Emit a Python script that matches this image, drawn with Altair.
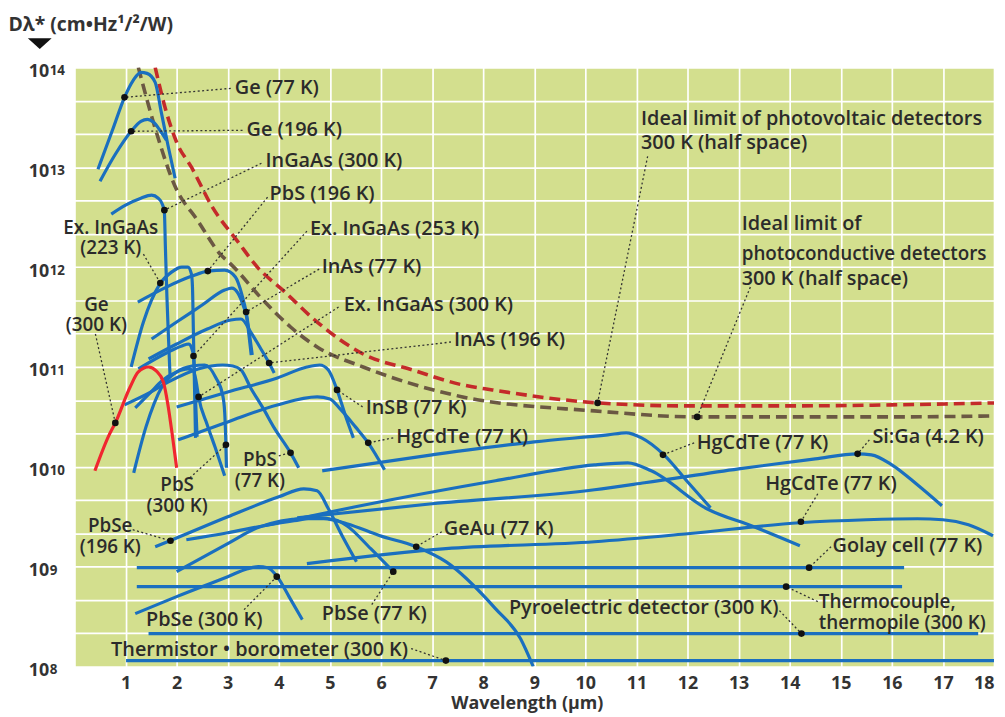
import altair as alt
import pandas as pd

# ---------------- data (wavelength in µm, log10 of D*) ----------------
ge77_wl = [0.46, 0.75, 0.98, 1.15, 1.30, 1.42, 1.58, 1.70, 1.83, 1.97]
ge77_lg = [12.98, 13.38, 13.70, 13.87, 13.95, 13.94, 13.85, 13.55, 13.22, 12.89]

ge196_wl = [0.50, 0.80, 1.11, 1.30, 1.43, 1.55, 1.66, 1.80]
ge196_lg = [12.86, 13.13, 13.36, 13.46, 13.48, 13.45, 13.38, 13.27]

ingaas300_wl = [0.72, 1.00, 1.30, 1.51, 1.64, 1.72, 1.76, 1.78, 1.81, 1.84, 1.87]
ingaas300_lg = [12.53, 12.62, 12.69, 12.72, 12.69, 12.63, 12.55, 12.20, 11.70, 11.30, 10.92]

ex223_wl = [1.11, 1.35, 1.67, 1.90, 2.10, 2.22, 2.29, 2.31, 2.33, 2.35, 2.37]
ex223_lg = [11.00, 11.45, 11.83, 11.95, 12.00, 12.00, 11.93, 11.80, 11.30, 10.80, 10.29]

pbs196_wl = [1.24, 1.80, 2.30, 2.61, 2.94, 3.15, 3.28, 3.36, 3.42, 3.48]
pbs196_lg = [11.65, 11.80, 11.91, 11.96, 11.97, 11.90, 11.72, 11.55, 11.35, 11.12]

inas77_wl = [1.51, 2.00, 2.50, 2.94, 3.08, 3.20, 3.30, 3.37, 3.42, 3.46]
inas77_lg = [11.28, 11.45, 11.62, 11.77, 11.79, 11.74, 11.62, 11.50, 11.30, 11.12]

inas196_wl = [1.45, 2.00, 2.60, 3.06, 3.26, 3.45, 3.65, 3.81, 3.91]
inas196_lg = [11.08, 11.23, 11.38, 11.47, 11.48, 11.35, 11.18, 11.04, 10.94]

ex253_wl = [1.25, 1.80, 2.10, 2.24, 2.30, 2.33, 2.36, 2.40]
ex253_lg = [10.98, 11.14, 11.21, 11.23, 11.18, 11.11, 10.80, 10.30]

ex300_wl = [1.19, 1.50, 1.71, 2.00, 2.22, 2.33, 2.38, 2.43, 2.60, 2.75, 2.94]
ex300_lg = [10.59, 10.75, 10.86, 10.95, 10.98, 10.96, 10.86, 10.70, 10.42, 10.20, 9.91]

pbs300_wl = [1.16, 1.40, 1.71, 2.00, 2.30, 2.55, 2.77, 2.90, 2.94, 2.96, 2.975]
pbs300_lg = [9.94, 10.40, 10.80, 10.95, 11.01, 11.02, 10.89, 10.72, 10.55, 10.30, 9.99]

pbs77_wl = [0.98, 1.50, 1.84, 2.42, 2.90, 3.10, 3.26, 3.45, 3.70, 3.91, 4.23, 4.39]
pbs77_lg = [10.62, 10.75, 10.85, 10.98, 11.02, 11.01, 10.97, 10.79, 10.58, 10.39, 10.14, 9.99]

insb77_wl = [2.00, 3.00, 3.97, 4.55, 4.80, 4.97, 5.14, 5.30, 5.46]
insb77_lg = [10.60, 10.75, 10.89, 11.00, 11.02, 10.97, 10.77, 10.52, 10.29]

hgcdte6_wl = [2.03, 3.00, 3.97, 4.75, 5.00, 5.20, 5.50, 5.75, 6.07]
hgcdte6_lg = [10.27, 10.45, 10.62, 10.70, 10.68, 10.58, 10.40, 10.24, 9.97]

hgcdte12_wl = [4.85, 7.00, 9.00, 10.44, 10.80, 11.10, 11.54, 12.00, 12.45]
hgcdte12_lg = [9.96, 10.12, 10.25, 10.32, 10.34, 10.29, 10.12, 9.85, 9.59]

hgcdte14_wl = [3.71, 5.50, 8.24, 10.18, 10.83, 11.29, 12.38, 13.30, 14.20]
hgcdte14_lg = [9.41, 9.60, 9.86, 10.02, 10.04, 9.96, 9.58, 9.40, 9.21]

siga_wl = [4.36, 7.00, 10.18, 11.16, 13.00, 14.50, 15.33, 15.60, 16.00, 16.50, 16.98]
siga_lg = [9.49, 9.63, 9.77, 9.84, 9.98, 10.08, 10.13, 10.12, 10.02, 9.82, 9.61]

hgcdte18_wl = [4.55, 7.27, 10.18, 12.00, 14.20, 15.50, 16.50, 17.00, 17.50, 17.98]
hgcdte18_lg = [9.03, 9.18, 9.25, 9.33, 9.44, 9.47, 9.48, 9.47, 9.42, 9.31]

pbse196_wl = [1.58, 1.87, 3.00, 4.00, 4.49, 4.75, 4.97, 5.25, 5.52]
pbse196_lg = [9.20, 9.26, 9.50, 9.70, 9.78, 9.76, 9.58, 9.30, 9.05]

pbse77_wl = [2.19, 3.00, 3.71, 4.30, 4.75, 5.10, 5.33, 5.80, 6.24]
pbse77_lg = [9.27, 9.34, 9.41, 9.46, 9.49, 9.47, 9.41, 9.18, 8.95]

geau_wl = [2.00, 3.00, 3.58, 4.49, 4.88, 5.33, 5.98, 6.69, 7.27, 8.24, 8.73, 8.98]
geau_lg = [8.95, 9.23, 9.39, 9.48, 9.48, 9.43, 9.31, 9.20, 9.05, 8.58, 8.28, 8.00]

pbse300_wl = [1.19, 2.00, 3.00, 3.39, 3.60, 3.78, 3.97, 4.20, 4.46]
pbse300_lg = [8.53, 8.70, 8.90, 8.98, 9.00, 8.99, 8.90, 8.70, 8.47]

golay_wl = [1.22, 16.24]
golay_lg = [8.99, 8.99]
thermocouple_wl = [1.22, 16.20]
thermocouple_lg = [8.80, 8.80]
pyro_wl = [1.45, 17.69]
pyro_lg = [8.33, 8.33]
thermistor_wl = [1.01, 18.00]
thermistor_lg = [8.06, 8.06]

ge300_wl = [0.40, 0.67, 0.80, 1.09, 1.25, 1.45, 1.60, 1.74, 1.83, 1.92, 2.00]
ge300_lg = [9.96, 10.31, 10.44, 10.80, 10.95, 11.00, 10.96, 10.85, 10.62, 10.30, 9.99]

pv_wl = [1.58, 1.80, 2.00, 2.29, 2.70, 3.19, 3.58, 4.10, 4.75, 5.65, 6.62, 7.60, 8.18, 10.25, 12.00, 14.00, 16.00, 18.00]
pv_lg = [14.00, 13.55, 13.25, 13.00, 12.60, 12.26, 12.00, 11.76, 11.45, 11.13, 10.97, 10.82, 10.77, 10.64, 10.61, 10.61, 10.62, 10.64]

pc_wl = [1.25, 1.58, 1.96, 2.42, 2.87, 3.06, 3.71, 4.23, 4.75, 5.65, 7.60, 10.18, 12.19, 14.00, 16.00, 18.00]
pc_lg = [14.00, 13.39, 12.82, 12.46, 12.12, 12.03, 11.66, 11.40, 11.20, 11.00, 10.70, 10.56, 10.50, 10.50, 10.50, 10.51]

# y tick exponents shown as 10^n
y_exponents = [8, 9, 10, 11, 12, 13, 14]

# labels: (text, wavelength, log10 D*, font size)
left_labels = [
    ("Ge (77 K)", 3.14, 13.79, 20), ("Ge (196 K)", 3.37, 13.37, 20),
    ("InGaAs (300 K)", 3.74, 13.06, 20), ("PbS (196 K)", 3.82, 12.73, 20),
    ("Ex. InGaAs (253 K)", 4.61, 12.38, 20), ("InAs (77 K)", 4.84, 12.00, 20),
    ("Ex. InGaAs (300 K)", 5.27, 11.62, 20), ("InAs (196 K)", 7.43, 11.27, 20),
    ("InSB (77 K)", 5.70, 10.59, 20), ("HgCdTe (77 K)", 6.30, 10.30, 20),
    ("HgCdTe (77 K)", 12.18, 10.24, 20), ("Si:Ga (4.2 K)", 15.62, 10.30, 20),
    ("HgCdTe (77 K)", 13.52, 9.83, 20), ("Golay cell (77 K)", 14.84, 9.21, 20),
    ("Thermocouple,", 14.57, 8.65, 19), ("thermopile (300 K)", 14.57, 8.44, 19),
    ("GeAu (77 K)", 7.23, 9.38, 20), ("PbSe (77 K)", 4.84, 8.53, 20),
    ("Ideal limit of photovoltaic detectors", 11.09, 13.48, 20),
    ("300 K (half space)", 11.09, 13.24, 20),
    ("Ideal limit of", 13.06, 12.43, 20), ("photoconductive detectors", 13.06, 12.13, 19),
    ("300 K (half space)", 13.06, 11.88, 20),
]
center_labels = [
    ("Ge", 0.43, 11.62, 19), ("(300 K)", 0.43, 11.42, 19),
    ("Ex. InGaAs", 0.71, 12.39, 19), ("(223 K)", 0.71, 12.19, 19),
    ("PbSe", 0.70, 9.41, 19), ("(196 K)", 0.70, 9.20, 19),
    ("PbS", 2.01, 9.82, 19), ("(300 K)", 2.01, 9.61, 19),
    ("PbS", 3.63, 10.07, 19), ("(77 K)", 3.63, 9.86, 19),
]
right_labels = [
    ("Pyroelectric detector (300 K)", 13.78, 8.59, 20),
    ("Thermistor • borometer (300 K)", 6.53, 8.17, 20),
    ("PbSe (300 K)", 3.68, 8.47, 20),
]
# leader lines: (text end wl, text end logD, dot wl, dot logD)
leaders = [
    (3.06, 13.79, 0.98, 13.70), (3.29, 13.37, 1.11, 13.36),
    (3.66, 13.04, 1.76, 12.57), (3.78, 12.70, 2.61, 11.96),
    (4.55, 12.36, 2.33, 11.11), (4.79, 11.98, 3.36, 11.55),
    (5.17, 11.60, 2.43, 10.70), (7.37, 11.25, 3.81, 11.04),
    (5.64, 10.60, 5.14, 10.77), (6.24, 10.29, 5.75, 10.24),
    (12.13, 10.24, 11.52, 10.12), (15.56, 10.27, 15.33, 10.13),
    (14.55, 9.73, 14.22, 9.45), (14.81, 9.20, 14.38, 8.99),
    (14.55, 8.65, 13.93, 8.80), (13.80, 8.56, 14.23, 8.33),
    (6.59, 8.18, 7.27, 8.06), (3.32, 8.57, 3.96, 8.90),
    (5.82, 8.62, 6.24, 8.95), (7.19, 9.35, 6.69, 9.20),
    (1.14, 9.37, 1.88, 9.26), (2.26, 9.89, 2.965, 10.22),
    (4.00, 10.11, 4.23, 10.14), (0.41, 11.33, 0.80, 10.44),
    (1.35, 12.13, 1.68, 11.84), (11.22, 13.11, 10.24, 10.64),
    (13.23, 11.80, 12.19, 10.50),
]

# ---------------- build tables ----------------
blue_curves = {
    "Ge 77K": (ge77_wl, ge77_lg), "Ge 196K": (ge196_wl, ge196_lg),
    "InGaAs 300K": (ingaas300_wl, ingaas300_lg), "Ex InGaAs 223K": (ex223_wl, ex223_lg),
    "PbS 196K": (pbs196_wl, pbs196_lg), "InAs 77K": (inas77_wl, inas77_lg),
    "InAs 196K": (inas196_wl, inas196_lg), "Ex InGaAs 253K": (ex253_wl, ex253_lg),
    "Ex InGaAs 300K": (ex300_wl, ex300_lg), "PbS 300K": (pbs300_wl, pbs300_lg),
    "PbS 77K": (pbs77_wl, pbs77_lg), "InSb 77K": (insb77_wl, insb77_lg),
    "HgCdTe a": (hgcdte6_wl, hgcdte6_lg), "HgCdTe b": (hgcdte12_wl, hgcdte12_lg),
    "HgCdTe c": (hgcdte14_wl, hgcdte14_lg), "Si:Ga": (siga_wl, siga_lg),
    "HgCdTe d": (hgcdte18_wl, hgcdte18_lg), "PbSe 196K": (pbse196_wl, pbse196_lg),
    "PbSe 77K": (pbse77_wl, pbse77_lg), "GeAu": (geau_wl, geau_lg),
    "PbSe 300K": (pbse300_wl, pbse300_lg), "Golay": (golay_wl, golay_lg),
    "Thermocouple": (thermocouple_wl, thermocouple_lg), "Pyro": (pyro_wl, pyro_lg),
    "Thermistor": (thermistor_wl, thermistor_lg),
}


def frame(curves):
    rows = []
    for name, (wl, lg) in curves.items():
        for i, (w, l) in enumerate(zip(wl, lg)):
            rows.append({"series": name, "i": i, "wl": w, "D": 10 ** l})
    return pd.DataFrame(rows)


blue_df = frame(blue_curves)
ge300_df = frame({"Ge 300K": (ge300_wl, ge300_lg)})
pv_df = frame({"PV": (pv_wl, pv_lg)})
pc_df = frame({"PC": (pc_wl, pc_lg)})


def label_df(items):
    return pd.DataFrame([{"t": t, "wl": w, "D": 10 ** l, "fs": s} for t, w, l, s in items])


lead_df = pd.DataFrame([{"wl": a, "D": 10 ** b, "wl2": c, "D2": 10 ** d}
                        for a, b, c, d in leaders])
dot_df = pd.DataFrame([{"wl": c, "D": 10 ** d} for a, b, c, d in leaders])
exp_df = pd.DataFrame({"e": [str(e) for e in y_exponents],
                       "D": [10.0 ** e for e in y_exponents]})

# ---------------- scales / axes ----------------
FONT = "Open Sans"
TXT = "#2b2b2b"
AX = "#333333"
x_scale = alt.Scale(domain=[0, 18], nice=False, zero=False)
y_scale = alt.Scale(type="log", domain=[1e8, 1e14], nice=False)

x_axis = alt.Axis(
    values=list(range(0, 19)), labelExpr="datum.value == 0 ? '' : datum.label",
    grid=True, gridColor="#ffffff", gridWidth=1.7, ticks=False, domain=False,
    labelFont=FONT, labelFontWeight="bold", labelFontSize=18, labelColor=AX,
    labelPadding=8, labelFlush=True, labelOverlap=False,
    title="Wavelength (µm)", titleFont=FONT, titleFontWeight="bold",
    titleFontSize=18, titleColor=AX, titlePadding=2, titleX=456,
)
y_ticks = [10 ** (8 + k / 3) for k in range(19)]
y_axis = alt.Axis(
    values=y_ticks,
    labelExpr=("abs(log(datum.value)/LN10 - round(log(datum.value)/LN10)) < 0.01 ? '10' : ''"),
    grid=True, gridColor="#ffffff", gridWidth=1.7, ticks=False, domain=False,
    labelFont=FONT, labelFontWeight="bold", labelFontSize=18, labelColor=AX,
    labelPadding=26, labelOverlap=False, labelBaseline="middle", labelOffset=4,
    title="Dλ* (cm•Hz¹/²/W)", titleAngle=0, titleX=-67, titleY=-43,
    titleAlign="left", titleBaseline="middle", titleFont=FONT, titleFontWeight="bold",
    titleFontSize=19.5, titleColor=AX,
)


def X(field="wl"):
    return alt.X(f"{field}:Q", scale=x_scale, axis=x_axis)


def Y(field="D"):
    return alt.Y(f"{field}:Q", scale=y_scale, axis=y_axis)


pc_layer = alt.Chart(pc_df).mark_line(
    color="#6b5843", strokeWidth=3.6, strokeDash=[11, 6], interpolate="monotone", clip=True
).encode(x=X(), y=Y(), detail="series:N", order="i:Q")

pv_layer = alt.Chart(pv_df).mark_line(
    color="#c42a2a", strokeWidth=3.6, strokeDash=[11, 6], interpolate="monotone", clip=True
).encode(x=X(), y=Y(), detail="series:N", order="i:Q")

blue_layer = alt.Chart(blue_df).mark_line(
    color="#1a6fbf", strokeWidth=3.2, interpolate="monotone", clip=True
).encode(x=X(), y=Y(), detail="series:N", order="i:Q")

ge300_layer = alt.Chart(ge300_df).mark_line(
    color="#f0262f", strokeWidth=3.2, interpolate="monotone", clip=True
).encode(x=X(), y=Y(), detail="series:N", order="i:Q")

lead_layer = alt.Chart(lead_df).mark_rule(
    color="#333333", strokeWidth=1.3, strokeDash=[2, 2.5]
).encode(x=X(), y=Y(), x2="wl2:Q", y2="D2:Q")

dot_layer = alt.Chart(dot_df).mark_circle(color="#111111", opacity=1, size=45).encode(
    x=X(), y=Y())


def text_layer(items, align):
    return alt.Chart(label_df(items)).mark_text(
        align=align, baseline="middle", font=FONT, fontWeight=600, color=TXT
    ).encode(x=X(), y=Y(), text="t:N", size=alt.Size("fs:Q", scale=None, legend=None))


exp_layer = alt.Chart(exp_df).mark_text(
    align="left", baseline="top", font=FONT, fontSize=13.5, fontWeight="bold",
    color=AX, dy=-3
).encode(x=alt.value(-25), y=Y(), text="e:N")

tri_layer = alt.Chart(pd.DataFrame({"k": [0]})).mark_point(
    shape="M-1,-0.45L1,-0.45L0,0.45Z", filled=True, size=576, color="#111111", opacity=1
).encode(x=alt.value(-35), y=alt.value(-24))

chart = alt.layer(
    pc_layer, pv_layer, blue_layer, ge300_layer, lead_layer, dot_layer,
    text_layer(left_labels, "left"), text_layer(center_labels, "center"),
    text_layer(right_labels, "right"), exp_layer, tri_layer,
).properties(
    width=927, height=604, autosize="none",
    padding={"left": 67, "top": 57, "right": 3, "bottom": 48},
).configure_view(fill="#d3df8e", stroke="transparent")

chart.save("out.html", embed_options={"renderer": "svg", "actions": False})
